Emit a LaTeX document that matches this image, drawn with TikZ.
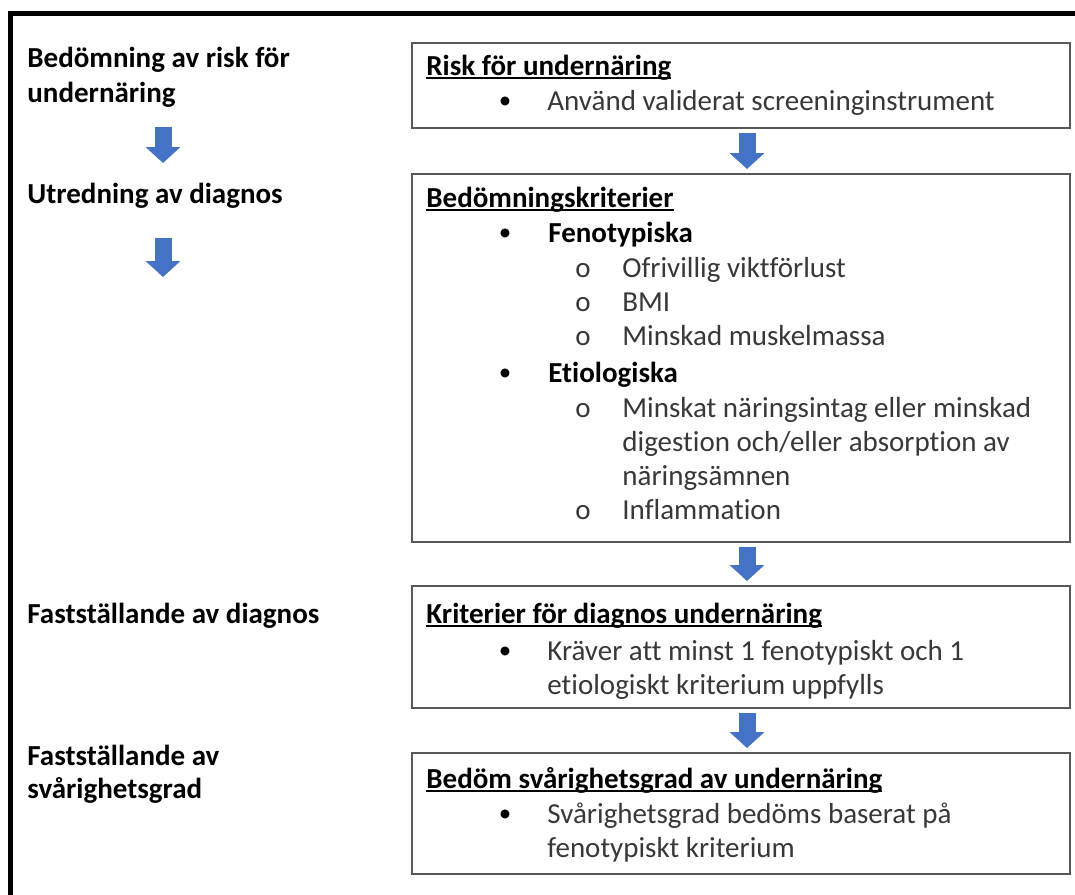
\documentclass[tikz,border=0pt]{standalone}
\usepackage{fontspec}
\setmainfont{Carlito}[Ligatures=NoCommon]
\usetikzlibrary{arrows.meta}
\definecolor{arrowblue}{HTML}{4472C4}
\newcommand\txt{\fontsize{14.5pt}{17pt}\selectfont}
\newcommand\underl[1]{\setbox0\hbox{#1}\rlap{\rule[-2pt]{\wd0}{0.8pt}}\box0}
\newcommand\bull{\raisebox{0.6pt}{\color{black}\fontsize{12.5pt}{14pt}\selectfont •}}

\begin{document}
\begin{tikzpicture}[x=0.5pt,y=-0.5pt,
    critbox/.style={draw=black!65,line width=1pt,anchor=north west,minimum width=329pt,inner sep=0pt},
    line/.style={anchor=base west,inner sep=0pt,font=\txt,text=black!78},
    head/.style={anchor=base west,inner sep=0pt,font=\txt\bfseries},
    dot/.style={anchor=base,inner sep=0pt,font=\txt,text=black!78},
    blockarrow/.style={draw=arrowblue,line width=8.5pt,-{Triangle[length=8pt,width=17pt]},shorten <=2pt,shorten >=2pt}]
    %%%%% START %%%%%
    
    \useasboundingbox (0,0) rectangle (1075,894);
    \fill[white] (0,0) rectangle (1075,894);
    
    \draw[line width=2.5pt] (10,900) -- (10,13) -- (1080,13);
    
    % left column
    \node[head] (l1a) at (27,67) {Bedömning av risk för};
    \node[head] (l1b) at (27,102) {undernäring};
    \node[head] (l2) at (27,203) {Utredning av diagnos};
    \node[head] (l3) at (27,623) {Fastställande av diagnos};
    \node[head] (l4a) at (27,765) {Fastställande av};
    \node[head] (l4b) at (27,798) {svårighetsgrad};
    
    \coordinate (la1) at (163,127);
    \coordinate (la1e) at (163,163);
    \coordinate (la2) at (163,238);
    \coordinate (la2e) at (163,277);
    \draw[blockarrow,shorten <=0pt,shorten >=0pt] (la1) -- (la1e);
    \draw[blockarrow,shorten <=0pt,shorten >=0pt] (la2) -- (la2e);
    
    % boxes
    \node[critbox,minimum height=42.5pt] (b1) at (411,42) {};
    \node[critbox,minimum height=184pt] (b2) at (411,173) {};
    \node[critbox,minimum height=61pt] (b3) at (411,585) {};
    \node[critbox,minimum height=60.5pt] (b4) at (411,752) {};
    
    \draw[blockarrow] ([xshift=3pt]b1.south) -- ([xshift=3pt]b2.north);
    \draw[blockarrow] ([xshift=3pt]b2.south) -- ([xshift=3pt]b3.north);
    \draw[blockarrow] ([xshift=3pt]b3.south) -- ([xshift=3pt]b4.north);
    
    % box 1
    \node[head] (b1t) at (426,75) {\underl{Risk för undernäring}};
    \node[dot] (b1d) at (505,110) {\bull};
    \node[line] (b1x) at (547,110) {Använd validerat screeninginstrument};
    
    % box 2
    \node[head] (b2t) at (426,207) {\underl{Bedömningskriterier}};
    \node[dot] (b2d1) at (505,242) {\bull};
    \node[head] (b2f) at (548,242) {Fenotypiska};
    \node[dot] (b2o1) at (583,277) {o};
    \node[line] (b2x1) at (622,277) {Ofrivillig viktförlust};
    \node[dot] (b2o2) at (583,311) {o};
    \node[line] (b2x2) at (622,311) {BMI};
    \node[dot] (b2o3) at (583,345) {o};
    \node[line] (b2x3) at (622,345) {Minskad muskelmassa};
    \node[dot] (b2d2) at (505,382) {\bull};
    \node[head] (b2e) at (548,382) {Etiologiska};
    \node[dot] (b2o4) at (583,417) {o};
    \node[line] (b2x4) at (622,417) {Minskat näringsintag eller minskad};
    \node[line] (b2x5) at (622,451) {digestion och/eller absorption av};
    \node[line] (b2x6) at (622,485) {näringsämnen};
    \node[dot] (b2o5) at (583,519) {o};
    \node[line] (b2x7) at (622,519) {Inflammation};
    
    % box 3
    \node[head] (b3t) at (426,623) {\underl{Kriterier för diagnos undernäring}};
    \node[dot] (b3d) at (505,660) {\bull};
    \node[line] (b3x1) at (547,660) {Kräver att minst 1 fenotypiskt och 1};
    \node[line] (b3x2) at (547,694) {etiologiskt kriterium uppfylls};
    
    % box 4
    \node[head] (b4t) at (426,788) {\underl{Bedöm svårighetsgrad av undernäring}};
    \node[dot] (b4d) at (505,823) {\bull};
    \node[line] (b4x1) at (547,823) {Svårighetsgrad bedöms baserat på};
    \node[line] (b4x2) at (547,857) {fenotypiskt kriterium};
    
    %%%%% END %%%%%
\end{tikzpicture}
\end{document}
